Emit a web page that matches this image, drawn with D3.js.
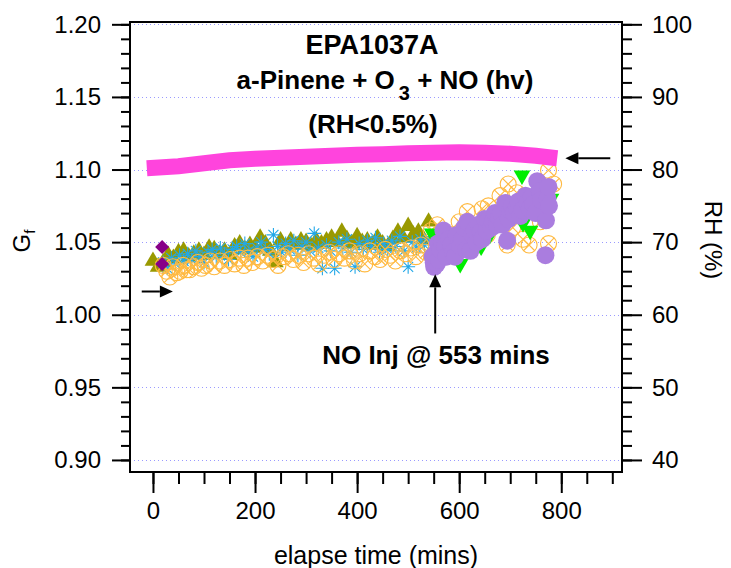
<!DOCTYPE html>
<html>
<head>
<meta charset="utf-8">
<script src="https://cdn.jsdelivr.net/npm/d3@7"></script>
<style>
  body { margin: 0; background: #fff; }
  text { font-family: "Liberation Sans", Arial, sans-serif; fill: #000; }
</style>
</head>
<body>
<div class="chart"></div>
<script>
// elapse time (mins) / Gf pairs
var oliveTime = [0, 10, 20, 30, 40, 50, 60, 70, 80, 90, 100, 110, 120, 130, 140, 150, 160, 170, 180, 190, 200, 210, 220, 230, 240, 250, 260, 270, 280, 290, 300, 310, 320, 330, 340, 350, 360, 370, 380, 390, 400, 410, 420, 430, 440, 450, 460, 470, 480, 490, 500, 510, 520, 530, 540];
var oliveGf   = [1.037, 1.033, 1.036, 1.041, 1.039, 1.043, 1.044, 1.040, 1.042, 1.044, 1.041, 1.046, 1.045, 1.042, 1.044, 1.041, 1.047, 1.049, 1.045, 1.048, 1.046, 1.053, 1.049, 1.044, 1.036, 1.051, 1.047, 1.051, 1.048, 1.051, 1.050, 1.047, 1.051, 1.049, 1.051, 1.053, 1.050, 1.057, 1.052, 1.049, 1.054, 1.050, 1.051, 1.048, 1.053, 1.049, 1.047, 1.052, 1.057, 1.053, 1.061, 1.055, 1.057, 1.052, 1.064];

var cyanTime = [20, 28, 36, 44, 52, 60, 68, 76, 84, 92, 100, 108, 116, 124, 132, 140, 148, 156, 164, 172, 180, 188, 196, 204, 212, 220, 228, 236, 244, 252, 260, 268, 276, 284, 292, 300, 308, 316, 324, 332, 340, 348, 356, 364, 372, 380, 388, 396, 404, 412, 420, 428, 436, 444, 452, 460, 468, 476, 484, 492, 500, 508, 516, 524, 532, 540];
var cyanGf   = [1.036, 1.032, 1.039, 1.035, 1.041, 1.037, 1.042, 1.038, 1.044, 1.040, 1.036, 1.043, 1.045, 1.040, 1.046, 1.042, 1.038, 1.045, 1.047, 1.043, 1.049, 1.044, 1.040, 1.046, 1.050, 1.045, 1.042, 1.055, 1.047, 1.043, 1.049, 1.045, 1.051, 1.041, 1.047, 1.050, 1.044, 1.056, 1.046, 1.032, 1.048, 1.044, 1.032, 1.050, 1.046, 1.052, 1.043, 1.033, 1.049, 1.045, 1.051, 1.047, 1.053, 1.043, 1.049, 1.045, 1.051, 1.047, 1.054, 1.044, 1.033, 1.050, 1.046, 1.052, 1.048, 1.053];

var orangeTime = [20, 27, 33, 39, 47, 53, 59, 66, 72, 80, 88, 95, 103, 112, 120, 131, 140, 151, 160, 170, 178, 186, 195, 205, 215, 225, 235, 245, 255, 265, 275, 285, 295, 305, 315, 325, 335, 345, 355, 365, 375, 385, 395, 405, 415, 425, 435, 445, 455, 465, 475, 485, 495, 505, 515, 525, 535, 545,
                  557, 570, 585, 598, 600, 616, 620, 630, 645, 655, 657, 668, 680, 690, 694, 696, 705, 713, 725, 737, 745, 759, 769, 775, 775, 785];
var orangeGf   = [1.034, 1.030, 1.026, 1.033, 1.029, 1.030, 1.034, 1.031, 1.031, 1.033, 1.036, 1.032, 1.034, 1.037, 1.033, 1.037, 1.034, 1.038, 1.035, 1.039, 1.034, 1.039, 1.036, 1.040, 1.037, 1.041, 1.038, 1.034, 1.040, 1.042, 1.038, 1.041, 1.036, 1.042, 1.039, 1.035, 1.041, 1.043, 1.038, 1.042, 1.039, 1.044, 1.037, 1.042, 1.035, 1.044, 1.040, 1.038, 1.045, 1.041, 1.037, 1.044, 1.042, 1.046, 1.040, 1.048, 1.043, 1.058,
                  1.062, 1.046, 1.055, 1.044, 1.064, 1.071, 1.050, 1.058, 1.073, 1.055, 1.075, 1.066, 1.082, 1.071, 1.048, 1.090, 1.060, 1.084, 1.052, 1.048, 1.079, 1.064, 1.065, 1.0995, 1.049, 1.090];

var greenTime = [547, 555, 562, 575, 590, 602, 620, 643, 660, 690, 705, 723, 725, 739, 750, 760, 769, 780];
var greenGf   = [1.056, 1.040, 1.035, 1.047, 1.050, 1.035, 1.048, 1.047, 1.055, 1.062, 1.070, 1.096, 1.063, 1.058, 1.078, 1.072, 1.086, 1.080];

var purpleTime = [551, 548, 550, 553, 556, 558, 560, 563, 566, 569, 572, 575, 580, 584, 588, 592, 595, 602, 606, 610, 614, 616, 622, 626, 630, 634, 638, 642, 645, 650, 654, 657, 663, 666, 670, 674, 678, 682, 685, 690, 694, 697, 700, 704, 707, 713, 716, 720, 724, 730, 734, 738, 742, 745, 750, 753, 758, 760, 769, 770, 773, 775, 776];
var purpleGf   = [1.033, 1.040, 1.036, 1.042, 1.035, 1.049, 1.038, 1.045, 1.050, 1.058, 1.047, 1.040, 1.052, 1.048, 1.043, 1.040, 1.055, 1.047, 1.052, 1.060, 1.045, 1.064, 1.044, 1.055, 1.058, 1.050, 1.062, 1.057, 1.052, 1.066, 1.058, 1.065, 1.060, 1.064, 1.070, 1.062, 1.067, 1.070, 1.062, 1.077, 1.051, 1.066, 1.072, 1.075, 1.070, 1.074, 1.078, 1.068, 1.072, 1.082, 1.077, 1.073, 1.081, 1.076, 1.070, 1.092, 1.085, 1.079, 1.041, 1.065, 1.080, 1.088, 1.075];

var diamondTime = [18, 18];
var diamondGf   = [1.035, 1.0466];

var bandTime = [-12, 50, 100, 150, 200, 250, 300, 350, 400, 450, 500, 550, 600, 650, 700, 750, 792];
var bandGf   = [1.1009, 1.1023, 1.1043, 1.1064, 1.1074, 1.1081, 1.1088, 1.1095, 1.1102, 1.1106, 1.1112, 1.1116, 1.1119, 1.1116, 1.1109, 1.1095, 1.1078];

var xTicks = [0, 200, 400, 600, 800];
var gfTicks = [0.90, 0.95, 1.00, 1.05, 1.10, 1.15, 1.20];
var rhTicks = [40, 50, 60, 70, 80, 90, 100];

var svgWidth = 731;
var svgHeight = 568;

var box = { left: 130, right: 622, top: 22, bottom: 472 };

var svg = d3.select(".chart")
  .append("svg")
  .attr("width", svgWidth)
  .attr("height", svgHeight);

var x = d3.scaleLinear().domain([-45, 919]).range([box.left, box.right]);
var y = d3.scaleLinear().domain([0.8917, 1.2016]).range([box.bottom, box.top]);
var yRH = d3.scaleLinear().domain([40 + (0.8917 - 0.9) * 200, 40 + (1.2016 - 0.9) * 200]).range([box.bottom, box.top]);

function pairs(ts, vs) {
  return ts.map(function(t, i) { return [t, vs[i]]; });
}

// grid
svg.append("g").selectAll("line")
  .data(gfTicks)
  .enter().append("line")
    .attr("x1", box.left).attr("x2", box.right)
    .attr("y1", function(d) { return Math.round(y(d)) + 0.5; })
    .attr("y2", function(d) { return Math.round(y(d)) + 0.5; })
    .attr("stroke", "#9a9aff")
    .attr("stroke-width", 1)
    .attr("stroke-dasharray", "1,3");

var plot = svg.append("g");

// olive triangles
plot.append("g").selectAll("path")
  .data(pairs(oliveTime, oliveGf))
  .enter().append("path")
    .attr("d", d3.symbol().type(d3.symbolTriangle).size(120))
    .attr("transform", function(d) { return "translate(" + x(d[0]) + "," + y(d[1]) + ")"; })
    .attr("fill", "#999900");

// cyan asterisks
plot.append("g").selectAll("path")
  .data(pairs(cyanTime, cyanGf))
  .enter().append("path")
    .attr("d", "M-7,0H7M0,-7V7M-5,-5L5,5M-5,5L5,-5")
    .attr("transform", function(d) { return "translate(" + x(d[0]) + "," + y(d[1]) + ")"; })
    .attr("fill", "none")
    .attr("stroke", "#22a8e8")
    .attr("stroke-width", 1.1);

// orange circles with x
var oc = plot.append("g").selectAll("g")
  .data(pairs(orangeTime, orangeGf))
  .enter().append("g")
    .attr("transform", function(d) { return "translate(" + x(d[0]) + "," + y(d[1]) + ")"; })
    .attr("fill", "none")
    .attr("stroke", "#ffb940")
    .attr("stroke-width", 1.1);
oc.append("circle").attr("r", 8);
oc.append("path").attr("d", "M-5.7,-5.7L5.7,5.7M-5.7,5.7L5.7,-5.7");

// green down triangles
plot.append("g").selectAll("path")
  .data(pairs(greenTime, greenGf))
  .enter().append("path")
    .attr("d", d3.symbol().type(d3.symbolTriangle).size(120))
    .attr("transform", function(d) { return "translate(" + x(d[0]) + "," + y(d[1]) + ") rotate(180)"; })
    .attr("fill", "#00ee00");

// lavender dots
plot.append("g").selectAll("circle")
  .data(pairs(purpleTime, purpleGf))
  .enter().append("circle")
    .attr("cx", function(d) { return x(d[0]); })
    .attr("cy", function(d) { return y(d[1]); })
    .attr("r", 9)
    .attr("fill", "#aa7ddf");

// purple diamonds
plot.append("g").selectAll("path")
  .data(pairs(diamondTime, diamondGf))
  .enter().append("path")
    .attr("d", "M0,-7L7,0L0,7L-7,0Z")
    .attr("transform", function(d) { return "translate(" + x(d[0]) + "," + y(d[1]) + ")"; })
    .attr("fill", "#880088");

// thick magenta trace
plot.append("path")
  .datum(pairs(bandTime, bandGf))
  .attr("d", d3.line().x(function(d) { return x(d[0]); }).y(function(d) { return y(d[1]); }))
  .attr("fill", "none")
  .attr("stroke", "#ff44dd")
  .attr("stroke-width", 16);

// frame
svg.append("rect")
  .attr("x", box.left).attr("y", box.top)
  .attr("width", box.right - box.left).attr("height", box.bottom - box.top)
  .attr("fill", "none")
  .attr("stroke", "#000")
  .attr("stroke-width", 2);

// axes
var leftAxis = d3.axisLeft(y).tickValues(d3.range(90, 121).map(function(v) { return v / 100; }))
  .tickSize(9).tickFormat("");
var leftMajor = d3.axisLeft(y).tickValues(gfTicks).tickSize(18).tickPadding(11).tickFormat(d3.format(".2f"));
var rightAxis = d3.axisRight(yRH).tickValues(d3.range(40, 101, 2)).tickSize(10).tickFormat("");
var rightMajor = d3.axisRight(yRH).tickValues(rhTicks).tickSize(20).tickPadding(10).tickFormat(d3.format("d"));
var bottomAxis = d3.axisBottom(x).tickValues(d3.range(0, 901, 50)).tickSize(12).tickFormat("");
var bottomMajor = d3.axisBottom(x).tickValues(xTicks).tickSize(21).tickPadding(9).tickFormat(d3.format("d"));

function styleAxis(g) {
  g.select(".domain").remove();
  g.selectAll(".tick line").attr("stroke", "#000").attr("stroke-width", 2);
  g.selectAll(".tick text").style("font-size", "24px").style("font-family", "'Liberation Sans', Arial, sans-serif").attr("fill", "#222");
}

svg.append("g").attr("transform", "translate(" + box.left + ",0)").call(leftAxis).call(styleAxis);
svg.append("g").attr("transform", "translate(" + box.left + ",0)").call(leftMajor).call(styleAxis);
svg.append("g").attr("transform", "translate(" + box.right + ",0)").call(rightAxis).call(styleAxis);
svg.append("g").attr("transform", "translate(" + box.right + ",0)").call(rightMajor).call(styleAxis);
svg.append("g").attr("transform", "translate(0," + box.bottom + ")").call(bottomAxis).call(styleAxis);
svg.append("g").attr("transform", "translate(0," + box.bottom + ")").call(bottomMajor).call(styleAxis);

// axis titles
svg.append("text")
  .attr("x", (box.left + box.right) / 2)
  .attr("y", 564)
  .attr("text-anchor", "middle")
  .style("font-size", "25px")
  .attr("fill", "#222")
  .text("elapse time (mins)");

var gf = svg.append("text")
  .attr("transform", "translate(30,241) rotate(-90)")
  .attr("text-anchor", "middle")
  .style("font-size", "24px")
  .attr("fill", "#222");
gf.append("tspan").text("G");
gf.append("tspan").attr("dy", 5).style("font-size", "15px").text("f");

svg.append("text")
  .attr("transform", "translate(705,240) rotate(90)")
  .attr("text-anchor", "middle")
  .style("font-size", "24px")
  .attr("fill", "#222")
  .text("RH (%)");

// title block
var title = svg.append("g").style("font-weight", "bold").style("font-size", "26px");
title.append("text").attr("x", 372).attr("y", 54).attr("text-anchor", "middle").style("font-size", "27px").text("EPA1037A");
var t2 = title.append("text").attr("x", 385).attr("y", 89).attr("text-anchor", "middle");
t2.append("tspan").text("a-Pinene + O");
t2.append("tspan").attr("dx", 4).attr("dy", 11).style("font-size", "20px").text("3");
t2.append("tspan").attr("dy", -11).text(" + NO (hv)");
title.append("text").attr("x", 373).attr("y", 133).attr("text-anchor", "middle").text("(RH<0.5%)");
title.append("text").attr("x", 436).attr("y", 364).attr("text-anchor", "middle").text("NO Inj @ 553 mins");

// arrows
function arrow(x1, y1, x2, y2) {
  var a = Math.atan2(y2 - y1, x2 - x1);
  var hl = 13, hw = 6;
  var bx = x2 - hl * Math.cos(a), by = y2 - hl * Math.sin(a);
  svg.append("line")
    .attr("x1", x1).attr("y1", y1).attr("x2", bx).attr("y2", by)
    .attr("stroke", "#000").attr("stroke-width", 2);
  svg.append("path")
    .attr("d", "M" + x2 + "," + y2 +
      "L" + (bx + hw * Math.sin(a)) + "," + (by - hw * Math.cos(a)) +
      "L" + (bx - hw * Math.sin(a)) + "," + (by + hw * Math.cos(a)) + "Z")
    .attr("fill", "#000");
}
arrow(x(-22), y(1.016), x(39), y(1.016));
arrow(x(896), y(1.1078), x(808), y(1.1078));
arrow(x(553), y(0.9871), x(553), y(1.0278));
</script>
</body>
</html>
